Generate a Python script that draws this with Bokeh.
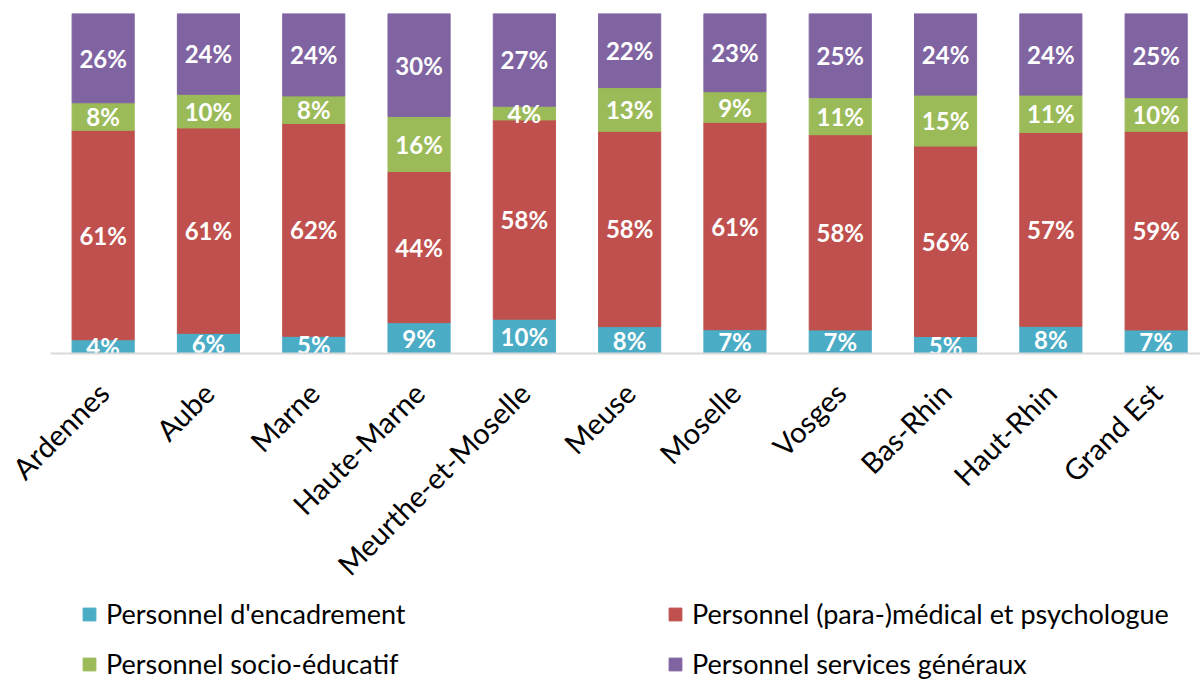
import numpy as np
from bokeh.plotting import figure
from bokeh.layouts import column
from bokeh.models import ColumnDataSource, Range1d, FixedTicker, Legend, LegendItem
from bokeh.core.properties import value
from bokeh.embed import file_html
from bokeh.resources import INLINE

categories = ["Ardennes", "Aube", "Marne", "Haute-Marne", "Meurthe-et-Moselle",
              "Meuse", "Moselle", "Vosges", "Bas-Rhin", "Haut-Rhin", "Grand Est"]
encadrement = [4, 6, 5, 9, 10, 8, 7, 7, 5, 8, 7]
medical = [61, 61, 62, 44, 58, 58, 61, 58, 56, 57, 59]
socio = [8, 10, 8, 16, 4, 13, 9, 11, 15, 11, 10]
services = [26, 24, 24, 30, 27, 22, 23, 25, 24, 24, 25]

series_names = ["Personnel d'encadrement", "Personnel (para-)médical et psychologue",
                "Personnel socio-éducatif", "Personnel services généraux"]
series_keys = ["enc", "med", "soc", "ser"]
colors = ["#4BACC6", "#C0504D", "#9BBB59", "#8064A2"]

vals = np.array([encadrement, medical, socio, services], dtype=float)
totals = vals.sum(axis=0)
shares = vals / totals * 100.0  # 100% stacked

x = list(range(len(categories)))
data = {"x": x}
for k, s in zip(series_keys, shares):
    data[k] = s
source = ColumnDataSource(data)

p = figure(frame_width=1150, frame_height=340, output_backend="svg",
           toolbar_location=None, x_range=Range1d(-0.5, -0.5 + 1150 / 105.3),
           y_range=Range1d(0, 100), min_border_left=50, min_border_right=0,
           min_border_top=13, min_border_bottom=237)
p.outline_line_color = None
p.xgrid.visible = False
p.ygrid.visible = False
p.yaxis.visible = False

renderers = p.vbar_stack(series_keys, x="x", width=0.59, source=source,
                         color=colors, line_color=colors, line_width=1)

# labels
bottoms = np.vstack([np.zeros(len(x)), np.cumsum(shares, axis=0)[:-1]])
mids = bottoms + shares / 2
lab_x, lab_y, lab_t = [], [], []
for i in range(4):
    for j in range(len(x)):
        lab_x.append(x[j])
        lab_y.append(mids[i, j])
        lab_t.append(f"{int(vals[i, j])}%")
p.text(x=lab_x, y=lab_y, text=lab_t, text_color="white",
       text_font=value("Lato"), text_font_style="bold", text_font_size="24px",
       text_align="center", text_baseline="middle")

ax = p.xaxis[0]
ax.ticker = FixedTicker(ticks=x)
ax.major_label_overrides = {i: c for i, c in zip(x, categories)}
ax.major_label_orientation = np.pi / 4
ax.major_label_text_font = "Lato"
ax.major_label_text_font_size = "29px"
ax.major_label_text_color = "black"
ax.major_tick_line_color = None
ax.minor_tick_line_color = None
ax.axis_line_color = "#D9D9D9"
ax.axis_line_width = 2
ax.major_label_standoff = 28

# legend figure (legend only; its renderers hold no visible data)
lf = figure(frame_width=1200, frame_height=89, output_backend="svg",
            toolbar_location=None, min_border=0, x_range=Range1d(0, 1),
            y_range=Range1d(0, 1))
lf.outline_line_color = None
lf.xgrid.visible = False
lf.ygrid.visible = False
lf.xaxis.visible = False
lf.yaxis.visible = False
empty = ColumnDataSource({"x": [float("nan")], "top": [float("nan")]})
leg_r = [lf.vbar(x="x", top="top", width=0.5, source=empty, fill_color=c,
                 line_color=c) for c in colors]

def make_legend(idx, loc):
    items = [LegendItem(label=series_names[i], renderers=[leg_r[i]]) for i in idx]
    return Legend(items=items, location=loc, orientation="vertical",
                  label_text_font="Lato", label_text_font_size="27px",
                  label_text_color="#000000", glyph_width=16, glyph_height=16,
                  label_standoff=9, spacing=17, label_height=33, padding=0,
                  margin=0, border_line_color=None, background_fill_alpha=0)

lf.add_layout(make_legend([0, 2], (81, 6)), "center")
lf.add_layout(make_legend([1, 3], (667, 6)), "center")

layout = column(p, lf, spacing=0)
open("out.html", "w").write(file_html(layout, INLINE))
